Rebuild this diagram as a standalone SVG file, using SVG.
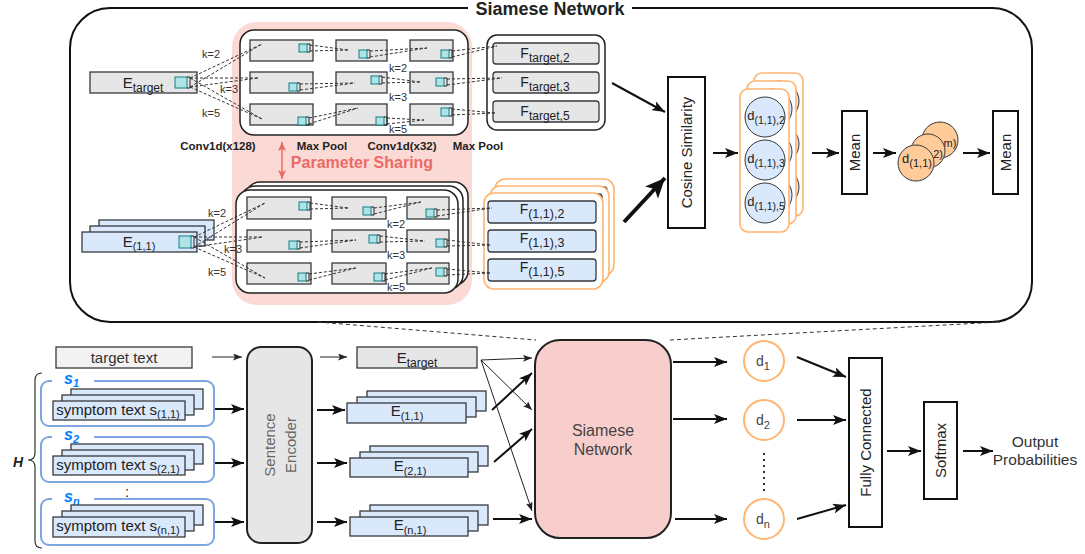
<svg xmlns="http://www.w3.org/2000/svg" width="1085" height="554" viewBox="0 0 1085 554">
<defs>
<style>
text{font-family:"Liberation Sans",Arial,Helvetica,sans-serif;fill:#222}
.gb{fill:#e6e6e6;stroke:#36393d;stroke-width:1.3}
.bb{fill:#dae8fc;stroke:#36393d;stroke-width:1.3}
.cy{fill:#b0e3e6;stroke:#0e8088;stroke-width:1}
.ds{fill:none;stroke:#333;stroke-width:1;stroke-dasharray:3 2}
.bk{fill:none;stroke:#222;stroke-width:1}
.wb{fill:#fff;stroke:#222;stroke-width:1.5}
.ob{fill:#fff;stroke:#ffb570;stroke-width:1.6}
.k{font-size:11px;fill:#333}
.lb{font-size:11.5px;font-weight:bold}
.l1{stroke:#222;stroke-width:1;fill:none}
.l2{stroke:#111;stroke-width:2;fill:none}
.bx{fill:#fff;stroke:#111;stroke-width:2}
.sg{fill:none;stroke:#7ea6e0;stroke-width:2}
.sl{font-size:16px;font-weight:bold;font-style:italic;fill:#007fff}
.bc{fill:#dae8fc;stroke:#36393d;stroke-width:1}
.oc{fill:#ffcc99;stroke:#36393d;stroke-width:1}
.vt{font-size:15px}
</style>
<marker id="m1" markerUnits="userSpaceOnUse" markerWidth="9" markerHeight="7" refX="9" refY="3.5" orient="auto"><path d="M0,0L9,3.5L0,7L2,3.5z" fill="#222"/></marker>
<marker id="m2" markerUnits="userSpaceOnUse" markerWidth="13" markerHeight="10" refX="13" refY="5" orient="auto"><path d="M0,0L13,5L0,10L3,5z" fill="#111"/></marker>
<marker id="m4" markerUnits="userSpaceOnUse" markerWidth="20" markerHeight="18" refX="20" refY="9" orient="auto"><path d="M0,0L20,9L0,18L5,9z" fill="#111"/></marker>
<marker id="mr" markerUnits="userSpaceOnUse" markerWidth="9" markerHeight="8" refX="9" refY="4" orient="auto-start-reverse"><path d="M0,0L9,4L0,8L2,4z" fill="#ea6b66"/></marker>
<clipPath id="cm"><rect x="920" y="120" width="45" height="28"/></clipPath>
</defs>
<rect x="0" y="0" width="1085" height="554" fill="#fff"/>

<!-- Outer Siamese network container -->
<g id="siamese-container">
<rect x="70" y="8" width="962" height="314" rx="40" fill="#fff" stroke="#111" stroke-width="2"/>
<rect x="468" y="0" width="164" height="17" fill="#fff"/>
<text x="550" y="14.5" font-size="18" font-weight="bold" text-anchor="middle">Siamese Network</text>
</g>

<!-- Parameter sharing background -->
<g id="param-sharing">
<rect x="232" y="22" width="240" height="283" rx="25" fill="#fbdad6"/>
<text x="362" y="168" font-size="16" font-weight="bold" text-anchor="middle" style="fill:#ea6b66">Parameter Sharing</text>
<line x1="282" y1="142" x2="282" y2="179" stroke="#ea6b66" stroke-width="1.5" marker-start="url(#mr)" marker-end="url(#mr)"/>
</g>

<!-- E_target top -->
<g id="etarget-top">
<rect class="gb" x="90" y="72" width="107" height="21"/>
<text x="143" y="88" font-size="15" text-anchor="middle">E<tspan font-size="12" dy="4">target</tspan></text>
<rect class="cy" x="175" y="77" width="12" height="11"/>
<path class="bk" d="M187,77h3v11h-3"/>
</g>

<!-- E(1,1) top-left stack -->
<g id="e11-top">
<rect class="bb" x="99" y="220" width="115" height="20"/>
<rect class="bb" x="90" y="226" width="115" height="20"/>
<rect class="bb" x="82" y="232" width="115" height="20"/>
<text x="139" y="247" font-size="15" text-anchor="middle">E<tspan font-size="11" dy="3">(1,1)</tspan></text>
<rect class="cy" x="179" y="236" width="12" height="12"/>
<path class="bk" d="M191,236h3v12h-3"/>
</g>

<!-- Top conv block -->
<g id="conv-top">
<rect class="wb" x="240" y="30" width="228" height="105" rx="14"/>
<rect class="gb" x="250" y="40" width="63" height="21"/>
<rect class="gb" x="250" y="72" width="63" height="21"/>
<rect class="gb" x="250" y="104" width="63" height="21"/>
<rect class="gb" x="336" y="40" width="51" height="21"/>
<rect class="gb" x="336" y="72" width="51" height="21"/>
<rect class="gb" x="336" y="104" width="51" height="21"/>
<rect class="gb" x="410" y="40" width="43" height="21"/>
<rect class="gb" x="410" y="72" width="43" height="21"/>
<rect class="gb" x="410" y="104" width="43" height="21"/>
<rect class="cy" x="299" y="44" width="8" height="8"/>
<rect class="cy" x="359" y="50" width="8" height="8"/>
<rect class="cy" x="441" y="50" width="8" height="8"/>
<rect class="cy" x="289" y="83" width="8" height="8"/>
<rect class="cy" x="371" y="76" width="8" height="8"/>
<rect class="cy" x="436" y="78" width="8" height="8"/>
<rect class="cy" x="298" y="117" width="8" height="8"/>
<rect class="cy" x="376" y="117" width="8" height="8"/>
<rect class="cy" x="441" y="108" width="8" height="8"/>
<path class="bk" d="M307,44h3v8h-3M367,50h3v8h-3M449,50h3v8h-3M297,83h3v8h-3M379,76h3v8h-3M444,78h3v8h-3M306,117h3v8h-3M384,117h3v8h-3M449,108h3v8h-3"/>
</g>

<!-- Bottom conv block (stacked) -->
<g id="conv-bottom">
<rect class="wb" x="246" y="182" width="222" height="103" rx="14"/>
<rect class="wb" x="241" y="186" width="222" height="103" rx="14"/>
<rect class="wb" x="236" y="190" width="222" height="103" rx="14"/>
<rect class="gb" x="247" y="197" width="64" height="22"/>
<rect class="gb" x="247" y="230" width="64" height="22"/>
<rect class="gb" x="247" y="263" width="64" height="21"/>
<rect class="gb" x="332" y="197" width="54" height="22"/>
<rect class="gb" x="332" y="230" width="54" height="22"/>
<rect class="gb" x="332" y="263" width="54" height="21"/>
<rect class="gb" x="407" y="197" width="42" height="22"/>
<rect class="gb" x="407" y="230" width="42" height="22"/>
<rect class="gb" x="407" y="263" width="42" height="21"/>
<rect class="cy" x="299" y="202" width="8" height="8"/>
<rect class="cy" x="363" y="207" width="8" height="8"/>
<rect class="cy" x="426" y="209" width="8" height="8"/>
<rect class="cy" x="289" y="241" width="8" height="8"/>
<rect class="cy" x="369" y="235" width="8" height="8"/>
<rect class="cy" x="436" y="239" width="8" height="8"/>
<rect class="cy" x="298" y="273" width="8" height="8"/>
<rect class="cy" x="374" y="273" width="8" height="8"/>
<rect class="cy" x="436" y="268" width="8" height="8"/>
<path class="bk" d="M307,202h3v8h-3M371,207h3v8h-3M434,209h3v8h-3M297,241h3v8h-3M377,235h3v8h-3M444,239h3v8h-3M306,273h3v8h-3M382,273h3v8h-3M444,268h3v8h-3"/>
</g>

<!-- F_target -->
<g id="ftarget">
<rect class="wb" x="487" y="35" width="118" height="95" rx="10"/>
<rect class="gb" x="493" y="43" width="106" height="21" rx="3"/>
<rect class="gb" x="493" y="72" width="106" height="21" rx="3"/>
<rect class="gb" x="493" y="101" width="106" height="21" rx="3"/>
<text x="545" y="58" font-size="14" text-anchor="middle">F<tspan font-size="12" dy="4">target,2</tspan></text>
<text x="545" y="87" font-size="14" text-anchor="middle">F<tspan font-size="12" dy="4">target,3</tspan></text>
<text x="545" y="116" font-size="14" text-anchor="middle">F<tspan font-size="12" dy="4">target,5</tspan></text>
</g>

<!-- F(1,1) stack -->
<g id="f11">
<rect class="ob" x="495" y="179" width="119" height="96" rx="10"/>
<rect class="bb" x="499" y="187" width="108" height="22" rx="3"/>
<rect class="bb" x="499" y="216" width="108" height="22" rx="3"/>
<rect class="bb" x="499" y="245" width="108" height="22" rx="3"/>
<rect class="ob" x="490" y="186" width="119" height="96" rx="10"/>
<rect class="bb" x="494" y="194" width="108" height="22" rx="3"/>
<rect class="bb" x="494" y="223" width="108" height="22" rx="3"/>
<rect class="bb" x="494" y="252" width="108" height="22" rx="3"/>
<rect class="ob" x="484" y="193" width="119" height="96" rx="10"/>
<rect class="bb" x="488" y="201" width="108" height="22" rx="3"/>
<rect class="bb" x="488" y="230" width="108" height="22" rx="3"/>
<rect class="bb" x="488" y="259" width="108" height="22" rx="3"/>
<text x="542" y="214" font-size="14" text-anchor="middle">F<tspan font-size="12.5" dy="4">(1,1),2</tspan></text>
<text x="542" y="243" font-size="14" text-anchor="middle">F<tspan font-size="12.5" dy="4">(1,1),3</tspan></text>
<text x="542" y="272" font-size="14" text-anchor="middle">F<tspan font-size="12.5" dy="4">(1,1),5</tspan></text>
</g>

<!-- dashed conv connections -->
<g id="conv-links" class="ds">
<path d="M190,78L262,44M190,87L262,44M190,78L258,78M190,87L258,78M190,78L262,119M190,87L262,119"/>
<path d="M310,45L348,50M310,51L348,50M370,51L427,48M370,57L427,48M452,51L497,46M452,57L497,46"/>
<path d="M300,84L355,83M300,90L355,83M382,77L420,82M382,83L420,82M447,79L502,78M447,85L502,78"/>
<path d="M309,118L358,108M309,124L358,108M387,118L424,120M387,124L424,120M452,109L495,113M452,115L495,113"/>
<path d="M194,237L265,203M194,247L265,203M194,237L263,237M194,247L263,237M194,237L265,278M194,247L265,278"/>
<path d="M310,203L348,208M310,209L348,208M374,208L421,202M374,214L421,202M437,210L492,208M437,216L492,208"/>
<path d="M300,242L356,240M300,248L356,240M380,236L425,241M380,242L425,241M447,240L490,245M447,246L490,245"/>
<path d="M309,274L356,268M309,280L356,268M385,274L432,268M385,280L432,268M447,269L490,273M447,275L490,273"/>
</g>

<!-- k labels and layer labels -->
<g id="labels-top">
<text class="k" x="202" y="58">k=2</text>
<text class="k" x="220" y="93">k=3</text>
<text class="k" x="202" y="117">k=5</text>
<text class="k" x="389" y="72">k=2</text>
<text class="k" x="389" y="101">k=3</text>
<text class="k" x="389" y="133">k=5</text>
<text class="k" x="208" y="217">k=2</text>
<text class="k" x="224" y="253">k=3</text>
<text class="k" x="208" y="276">k=5</text>
<text class="k" x="387" y="228">k=2</text>
<text class="k" x="387" y="259">k=3</text>
<text class="k" x="387" y="291">k=5</text>
<text class="lb" x="218" y="150" text-anchor="middle">Conv1d(x128)</text>
<text class="lb" x="322" y="150" text-anchor="middle">Max Pool</text>
<text class="lb" x="402" y="150" text-anchor="middle">Conv1d(x32)</text>
<text class="lb" x="478" y="150" text-anchor="middle">Max Pool</text>
</g>

<!-- Cosine similarity -->
<g id="cosine">
<rect class="bx" x="668" y="77" width="37" height="151"/>
<text class="vt" x="686.5" y="152.5" dy="5" text-anchor="middle" transform="rotate(-90 686.5 152.5)">Cosine Similarity</text>
</g>

<!-- d stack -->
<g id="d-stack">
<rect class="ob" x="754" y="73" width="49" height="143" rx="8"/>
<circle class="bc" cx="779" cy="101" r="20"/><circle class="bc" cx="779" cy="144" r="20"/><circle class="bc" cx="779" cy="187" r="20"/>
<rect class="ob" x="747" y="81" width="49" height="143" rx="8"/>
<circle class="bc" cx="772" cy="109" r="20"/><circle class="bc" cx="772" cy="152" r="20"/><circle class="bc" cx="772" cy="195" r="20"/>
<rect class="ob" x="740" y="89" width="49" height="143" rx="8"/>
<circle class="bc" cx="765" cy="117" r="20"/><circle class="bc" cx="765" cy="160" r="20"/><circle class="bc" cx="765" cy="203" r="20"/>
<text x="766" y="120" font-size="13" text-anchor="middle">d<tspan font-size="10.5" dy="4">(1,1),2</tspan></text>
<text x="766" y="163" font-size="13" text-anchor="middle">d<tspan font-size="10.5" dy="4">(1,1),3</tspan></text>
<text x="766" y="206" font-size="13" text-anchor="middle">d<tspan font-size="10.5" dy="4">(1,1),5</tspan></text>
</g>

<g id="mean1">
<rect class="bx" x="842" y="111" width="25" height="83"/>
<text class="vt" x="854.5" y="152.5" dy="5" text-anchor="middle" transform="rotate(-90 854.5 152.5)">Mean</text>
</g>

<g id="mean-circles">
<circle class="oc" cx="940" cy="140" r="18"/>
<text x="940" y="143" font-size="13" text-anchor="middle">d<tspan font-size="11" dy="4">(1,m)</tspan></text>
<circle class="oc" cx="928" cy="151" r="17"/>
<text x="928" y="154" font-size="13" text-anchor="middle">d<tspan font-size="11" dy="4">(1,2)</tspan></text>
<circle class="oc" cx="916" cy="163" r="18"/>
<text x="917" y="163" font-size="13" text-anchor="middle">d<tspan font-size="11" dy="4">(1,1)</tspan></text>
</g>

<g id="mean2">
<rect class="bx" x="993" y="111" width="25" height="83"/>
<text class="vt" x="1005.5" y="152.5" dy="5" text-anchor="middle" transform="rotate(-90 1005.5 152.5)">Mean</text>
</g>

<!-- Bottom: inputs -->
<g id="target-text">
<rect x="56" y="347" width="136" height="21" fill="#f2f2f2" stroke="#36393d" stroke-width="1.3"/>
<text x="124" y="363" font-size="15" text-anchor="middle" style="fill:#333">target text</text>
</g>

<g id="h-brace">
<path d="M42,373Q35,373 35,380L35,453Q35,460 28,460Q35,460 35,467L35,541Q35,548 42,548" fill="none" stroke="#333" stroke-width="1.2"/>
<text x="13" y="467" font-size="14" font-weight="bold" font-style="italic">H</text>
</g>

<g id="s1">
<rect class="sg" x="41" y="381" width="173" height="45" rx="8"/>
<rect x="52" y="376" width="42" height="8" fill="#fff"/>
<text class="sl" x="64" y="384">s<tspan font-size="11" dy="3">1</tspan></text>
<rect class="bb" x="71" y="389" width="132" height="20"/>
<rect class="bb" x="62" y="395" width="132" height="20"/>
<rect class="bb" x="53" y="401" width="132" height="19"/>
<text x="118" y="415" font-size="15" text-anchor="middle">symptom text s<tspan font-size="11" dy="3">(1,1)</tspan></text>
</g>
<g id="s2">
<rect class="sg" x="41" y="437" width="173" height="45" rx="8"/>
<rect x="52" y="432" width="42" height="8" fill="#fff"/>
<text class="sl" x="64" y="440">s<tspan font-size="11" dy="3">2</tspan></text>
<rect class="bb" x="71" y="444" width="132" height="20"/>
<rect class="bb" x="62" y="450" width="132" height="20"/>
<rect class="bb" x="53" y="456" width="132" height="19"/>
<text x="118" y="470" font-size="15" text-anchor="middle">symptom text s<tspan font-size="11" dy="3">(2,1)</tspan></text>
</g>
<text x="127" y="497" font-size="15" text-anchor="middle">:</text>
<g id="sn">
<rect class="sg" x="41" y="499" width="173" height="46" rx="8"/>
<rect x="52" y="494" width="42" height="8" fill="#fff"/>
<text class="sl" x="64" y="502">s<tspan font-size="11" dy="3">n</tspan></text>
<rect class="bb" x="71" y="505" width="132" height="20"/>
<rect class="bb" x="62" y="511" width="132" height="20"/>
<rect class="bb" x="53" y="517" width="132" height="20"/>
<text x="118" y="531" font-size="15" text-anchor="middle">symptom text s<tspan font-size="11" dy="3">(n,1)</tspan></text>
</g>

<g id="sentence-encoder">
<rect x="247" y="347" width="65" height="196" rx="14" fill="#e6e6e6" stroke="#222" stroke-width="2"/>
<text x="270" y="445" dy="5" font-size="15" text-anchor="middle" style="fill:#666" transform="rotate(-90 270 445)">Sentence</text>
<text x="291" y="445" dy="5" font-size="15" text-anchor="middle" style="fill:#666" transform="rotate(-90 291 445)">Encoder</text>
</g>

<g id="etarget-bottom">
<rect class="gb" x="357" y="347" width="120" height="21"/>
<text x="417" y="363" font-size="15" text-anchor="middle">E<tspan font-size="12" dy="4">target</tspan></text>
</g>
<g id="e11-bottom">
<rect class="bb" x="367" y="391" width="119" height="20"/>
<rect class="bb" x="357" y="397" width="119" height="20"/>
<rect class="bb" x="347" y="403" width="119" height="20"/>
<text x="407" y="416" font-size="15" text-anchor="middle">E<tspan font-size="11" dy="4">(1,1)</tspan></text>
</g>
<g id="e21-bottom">
<rect class="bb" x="370" y="446" width="118" height="20"/>
<rect class="bb" x="360" y="452" width="118" height="20"/>
<rect class="bb" x="350" y="458" width="118" height="19"/>
<text x="410" y="471" font-size="15" text-anchor="middle">E<tspan font-size="11" dy="4">(2,1)</tspan></text>
</g>
<g id="en1-bottom">
<rect class="bb" x="370" y="505" width="118" height="20"/>
<rect class="bb" x="360" y="511" width="118" height="20"/>
<rect class="bb" x="350" y="517" width="118" height="19"/>
<text x="410" y="530" font-size="15" text-anchor="middle">E<tspan font-size="11" dy="4">(n,1)</tspan></text>
</g>

<g id="siamese-node">
<rect x="535" y="340" width="136" height="198" rx="25" fill="#f8cecc" stroke="#222" stroke-width="2"/>
<text x="603" y="436" font-size="16" text-anchor="middle" style="fill:#444">Siamese</text>
<text x="603" y="455" font-size="16" text-anchor="middle" style="fill:#444">Network</text>
</g>

<g id="d-outputs">
<circle cx="764" cy="361" r="20" fill="#fff" stroke="#ffb570" stroke-width="2"/>
<text x="763" y="366" font-size="14" text-anchor="middle" style="fill:#444">d<tspan font-size="11" dy="4">1</tspan></text>
<circle cx="764" cy="420" r="20" fill="#fff" stroke="#ffb570" stroke-width="2"/>
<text x="763" y="425" font-size="14" text-anchor="middle" style="fill:#444">d<tspan font-size="11" dy="4">2</tspan></text>
<line x1="764" y1="453" x2="764" y2="492" stroke="#333" stroke-width="2" stroke-dasharray="2 4"/>
<circle cx="764" cy="519" r="20" fill="#fff" stroke="#ffb570" stroke-width="2"/>
<text x="763" y="524" font-size="14" text-anchor="middle" style="fill:#444">d<tspan font-size="11" dy="4">n</tspan></text>
</g>

<g id="fully-connected">
<rect class="bx" x="849" y="358" width="33" height="169"/>
<text class="vt" x="865.5" y="442.5" dy="5" text-anchor="middle" transform="rotate(-90 865.5 442.5)">Fully Connected</text>
</g>
<g id="softmax">
<rect class="bx" x="924" y="402" width="33" height="97"/>
<text class="vt" x="940.5" y="450.5" dy="5" text-anchor="middle" transform="rotate(-90 940.5 450.5)">Softmax</text>
</g>
<g id="output">
<text x="1035" y="447" font-size="15.5" text-anchor="middle" style="fill:#333">Output</text>
<text x="1035" y="465" font-size="15.5" text-anchor="middle" style="fill:#333">Probabilities</text>
</g>

<!-- connectors -->
<g id="connectors">
<line class="l2" x1="612" y1="83" x2="665" y2="112" marker-end="url(#m2)"/>
<line x1="624" y1="222" x2="665" y2="178" stroke="#111" stroke-width="4" marker-end="url(#m4)"/>
<line class="l2" x1="713" y1="153" x2="738" y2="153" marker-end="url(#m2)"/>
<line class="l2" x1="812" y1="153" x2="839" y2="153" marker-end="url(#m2)"/>
<line class="l2" x1="873" y1="153" x2="896" y2="153" marker-end="url(#m2)"/>
<line class="l2" x1="963" y1="153" x2="990" y2="153" marker-end="url(#m2)"/>

<line class="l1" x1="212" y1="357" x2="242" y2="357" marker-end="url(#m1)"/>
<line class="l2" x1="215" y1="409" x2="244" y2="409" marker-end="url(#m2)"/>
<line class="l2" x1="215" y1="463" x2="244" y2="463" marker-end="url(#m2)"/>
<line class="l2" x1="215" y1="522" x2="244" y2="522" marker-end="url(#m2)"/>
<line class="l1" x1="320" y1="357" x2="347" y2="357" marker-end="url(#m1)"/>
<line class="l2" x1="317" y1="410" x2="345" y2="410" marker-end="url(#m2)"/>
<line class="l2" x1="317" y1="463" x2="347" y2="463" marker-end="url(#m2)"/>
<line class="l2" x1="317" y1="522" x2="347" y2="522" marker-end="url(#m2)"/>

<line class="l1" x1="481" y1="360" x2="532" y2="358" marker-end="url(#m1)"/>
<line class="l1" x1="481" y1="360" x2="532" y2="410" marker-end="url(#m1)"/>
<line class="l1" x1="481" y1="360" x2="532" y2="511" marker-end="url(#m1)"/>
<line class="l2" x1="492" y1="410" x2="532" y2="373" marker-end="url(#m2)"/>
<line class="l2" x1="494" y1="462" x2="532" y2="429" marker-end="url(#m2)"/>
<line class="l2" x1="493" y1="519" x2="532" y2="519" marker-end="url(#m2)"/>

<line class="l2" x1="673" y1="362" x2="727" y2="362" marker-end="url(#m2)"/>
<line class="l2" x1="673" y1="419" x2="727" y2="419" marker-end="url(#m2)"/>
<line class="l2" x1="675" y1="519" x2="727" y2="519" marker-end="url(#m2)"/>
<line class="l2" x1="797" y1="357" x2="846" y2="377" marker-end="url(#m2)"/>
<line class="l2" x1="797" y1="420" x2="846" y2="420" marker-end="url(#m2)"/>
<line class="l2" x1="797" y1="519" x2="846" y2="505" marker-end="url(#m2)"/>
<line class="l2" x1="887" y1="451" x2="921" y2="451" marker-end="url(#m2)"/>
<line class="l2" x1="963" y1="451" x2="993" y2="451" marker-end="url(#m2)"/>

<line x1="318" y1="322" x2="536" y2="340" stroke="#333" stroke-width="1" stroke-dasharray="4 3"/>
<line x1="670" y1="340" x2="1000" y2="322" stroke="#333" stroke-width="1" stroke-dasharray="4 3"/>
</g>
</svg>
